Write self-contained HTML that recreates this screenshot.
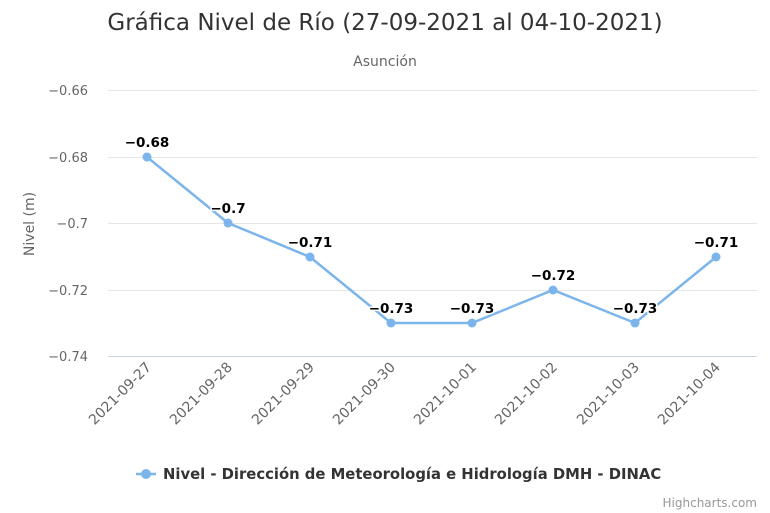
<!DOCTYPE html>
<html><head><meta charset="utf-8"><style>body{margin:0;background:#fff}svg{display:block;font-family:"DejaVu Sans","Liberation Sans",sans-serif}</style></head><body>
<svg width="770" height="513" xmlns="http://www.w3.org/2000/svg">
<rect width="770" height="513" fill="#fff"/>
<text x="385" y="30" text-anchor="middle" font-size="23" fill="#333">Gráfica Nivel de Río (27-09-2021 al 04-10-2021)</text>
<text x="385" y="66" text-anchor="middle" font-size="14" fill="#666">Asunción</text>
<g stroke="#e6e6e6" stroke-width="1">
<line x1="108" x2="757" y1="90.5" y2="90.5"/><line x1="108" x2="757" y1="157.5" y2="157.5"/><line x1="108" x2="757" y1="223.5" y2="223.5"/><line x1="108" x2="757" y1="290.5" y2="290.5"/>
</g>
<line x1="108" x2="757" y1="356.5" y2="356.5" stroke="#ccd6eb"/>
<g font-size="13" fill="#666" text-anchor="end">
<text x="88" y="95">−0.66</text><text x="88" y="162">−0.68</text><text x="88" y="228">−0.7</text><text x="88" y="295">−0.72</text><text x="88" y="361">−0.74</text>
</g>
<text transform="translate(34,224) rotate(-90)" text-anchor="middle" font-size="14" fill="#666">Nivel (m)</text>
<g font-size="14" fill="#666" text-anchor="end">
<text transform="translate(152,368) rotate(-45)">2021-09-27</text>
<text transform="translate(233,368) rotate(-45)">2021-09-28</text>
<text transform="translate(315,368) rotate(-45)">2021-09-29</text>
<text transform="translate(396,368) rotate(-45)">2021-09-30</text>
<text transform="translate(477,368) rotate(-45)">2021-10-01</text>
<text transform="translate(558,368) rotate(-45)">2021-10-02</text>
<text transform="translate(640,368) rotate(-45)">2021-10-03</text>
<text transform="translate(721,368) rotate(-45)">2021-10-04</text>
</g>
<polyline fill="none" stroke="#7cb5ec" stroke-width="2.5" points="147,157 228,223 310,257 391,323 472,323 553,290 635,323 716,257"/>
<g fill="#7cb5ec">
<circle cx="147" cy="157" r="4.5"/><circle cx="228" cy="223" r="4.5"/><circle cx="310" cy="257" r="4.5"/><circle cx="391" cy="323" r="4.5"/><circle cx="472" cy="323" r="4.5"/><circle cx="553" cy="290" r="4.5"/><circle cx="635" cy="323" r="4.5"/><circle cx="716" cy="257" r="4.5"/>
</g>
<g font-size="13.5" font-weight="bold" fill="#000" text-anchor="middle" stroke="#fff" stroke-width="3" paint-order="stroke">
<text x="147" y="147">−0.68</text><text x="228" y="213">−0.7</text><text x="310" y="247">−0.71</text><text x="391" y="313">−0.73</text><text x="472" y="313">−0.73</text><text x="553" y="280">−0.72</text><text x="635" y="313">−0.73</text><text x="716" y="247">−0.71</text>
</g>
<line x1="136" x2="156" y1="474" y2="474" stroke="#7cb5ec" stroke-width="2.5"/>
<circle cx="146" cy="474" r="5" fill="#7cb5ec"/>
<text x="163" y="479" font-size="14.8" font-weight="bold" fill="#333">Nivel - Dirección de Meteorología e Hidrología DMH - DINAC</text>
<text x="757" y="507" text-anchor="end" font-size="12" fill="#999">Highcharts.com</text>
</svg>
</body></html>
